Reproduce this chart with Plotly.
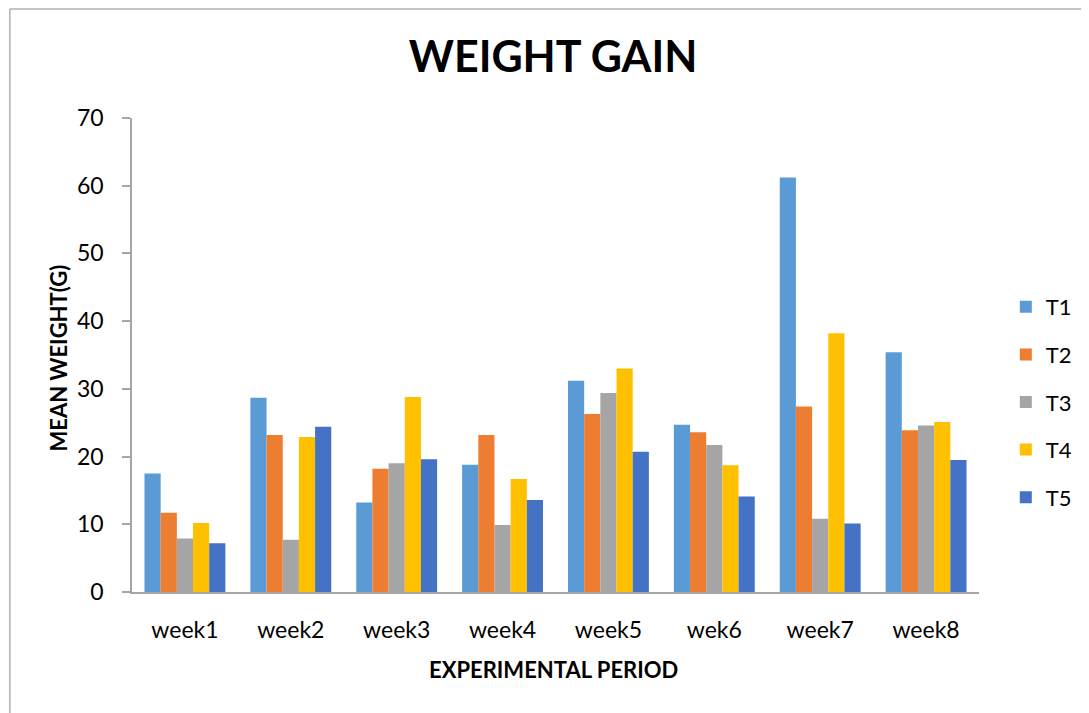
import plotly.graph_objects as go

categories = ["week1", "week2", "week3", "week4", "week5", "wek6", "week7", "week8"]
t1 = [17.5, 28.7, 13.2, 18.8, 31.2, 24.7, 61.2, 35.4]
t2 = [11.7, 23.2, 18.2, 23.2, 26.3, 23.6, 27.4, 23.9]
t3 = [7.9, 7.7, 19.0, 9.9, 29.4, 21.7, 10.8, 24.6]
t4 = [10.2, 22.9, 28.8, 16.7, 33.0, 18.7, 38.2, 25.1]
t5 = [7.2, 24.4, 19.6, 13.6, 20.7, 14.1, 10.1, 19.5]
series_names = ["T1", "T2", "T3", "T4", "T5"]
series_values = [t1, t2, t3, t4, t5]
colors = ["#5B9BD5", "#ED7D31", "#A5A5A5", "#FFC000", "#4472C4"]
y_ticks = [0, 10, 20, 30, 40, 50, 60, 70]

# page offset of the figure (default body margin)
OFF = 8
W, H = 1081, 705
# plot area in page pixels
PL, PR, PT, PB = 132, 985, 118, 592
L, T = PL - OFF, PT - OFF
R, B = W - (PR - OFF), H - (PB - OFF)
pw, ph = PR - PL, PB - PT

def px_x(p):
    return (p - PL) / pw

def px_y(p):
    return (PB - p) / ph

FONT = "Lato"

fig = go.Figure()
for name, vals, col in zip(series_names, series_values, colors):
    fig.add_trace(go.Bar(x=categories, y=vals, name=name, marker_color=col,
                         marker_line_width=0, legendgroup=name))

fig.update_layout(
    width=W, height=H,
    margin=dict(l=L, r=R, t=T, b=B),
    paper_bgcolor="white", plot_bgcolor="white",
    barmode="group", bargap=0.236, bargroupgap=0,
    font=dict(family=FONT, color="#000000"),
    title=dict(text="<b>WEIGHT GAIN</b>", x=(553 - OFF) / W, xanchor="center",
               y=1 - (57 - OFF) / H, yanchor="middle",
               font=dict(family=FONT, size=43, color="#000000")),
    legend=dict(x=px_x(1012), xanchor="left", y=px_y(402), yanchor="middle",
                font=dict(family=FONT, size=22, color="#000000"),
                tracegroupgap=16, traceorder="grouped", bgcolor="rgba(0,0,0,0)"),
    showlegend=True,
)
fig.update_xaxes(showline=True, linecolor="#a6a6a6", linewidth=2,
                 ticks="", showgrid=False,
                 tickfont=dict(family=FONT, size=23, color="#000000"),
                 ticklabelstandoff=16)
fig.update_yaxes(range=[0, 70], tickvals=y_ticks, showline=True, linecolor="#a6a6a6",
                 linewidth=1.5, ticks="outside", ticklen=8, tickcolor="#a6a6a6",
                 tickwidth=1.5, showgrid=False, zeroline=False,
                 tickfont=dict(family=FONT, size=23, color="#000000"),
                 ticklabelstandoff=14)

fig.add_annotation(text="<b>MEAN WEIGHT(G)</b>", xref="paper", yref="paper",
                   x=px_x(57), y=px_y(358), textangle=-90, showarrow=False,
                   xanchor="center", yanchor="middle",
                   font=dict(family=FONT, size=22, color="#000000"))
fig.add_annotation(text="<b>EXPERIMENTAL PERIOD</b>", xref="paper", yref="paper",
                   x=px_x(556), y=px_y(669), showarrow=False,
                   xanchor="center", yanchor="middle",
                   font=dict(family=FONT, size=22, color="#000000"))

# chart-area border (top and left edges visible in reference)
fig.add_shape(type="line", xref="paper", yref="paper",
              x0=px_x(OFF + 1), x1=px_x(1095), y0=px_y(OFF + 1), y1=px_y(OFF + 1),
              line=dict(color="#b0b0b0", width=1.5))
fig.add_shape(type="line", xref="paper", yref="paper",
              x0=px_x(OFF + 1), x1=px_x(OFF + 1), y0=px_y(OFF + 1), y1=px_y(720),
              line=dict(color="#b0b0b0", width=1.5))

fig.write_html("out.html")
